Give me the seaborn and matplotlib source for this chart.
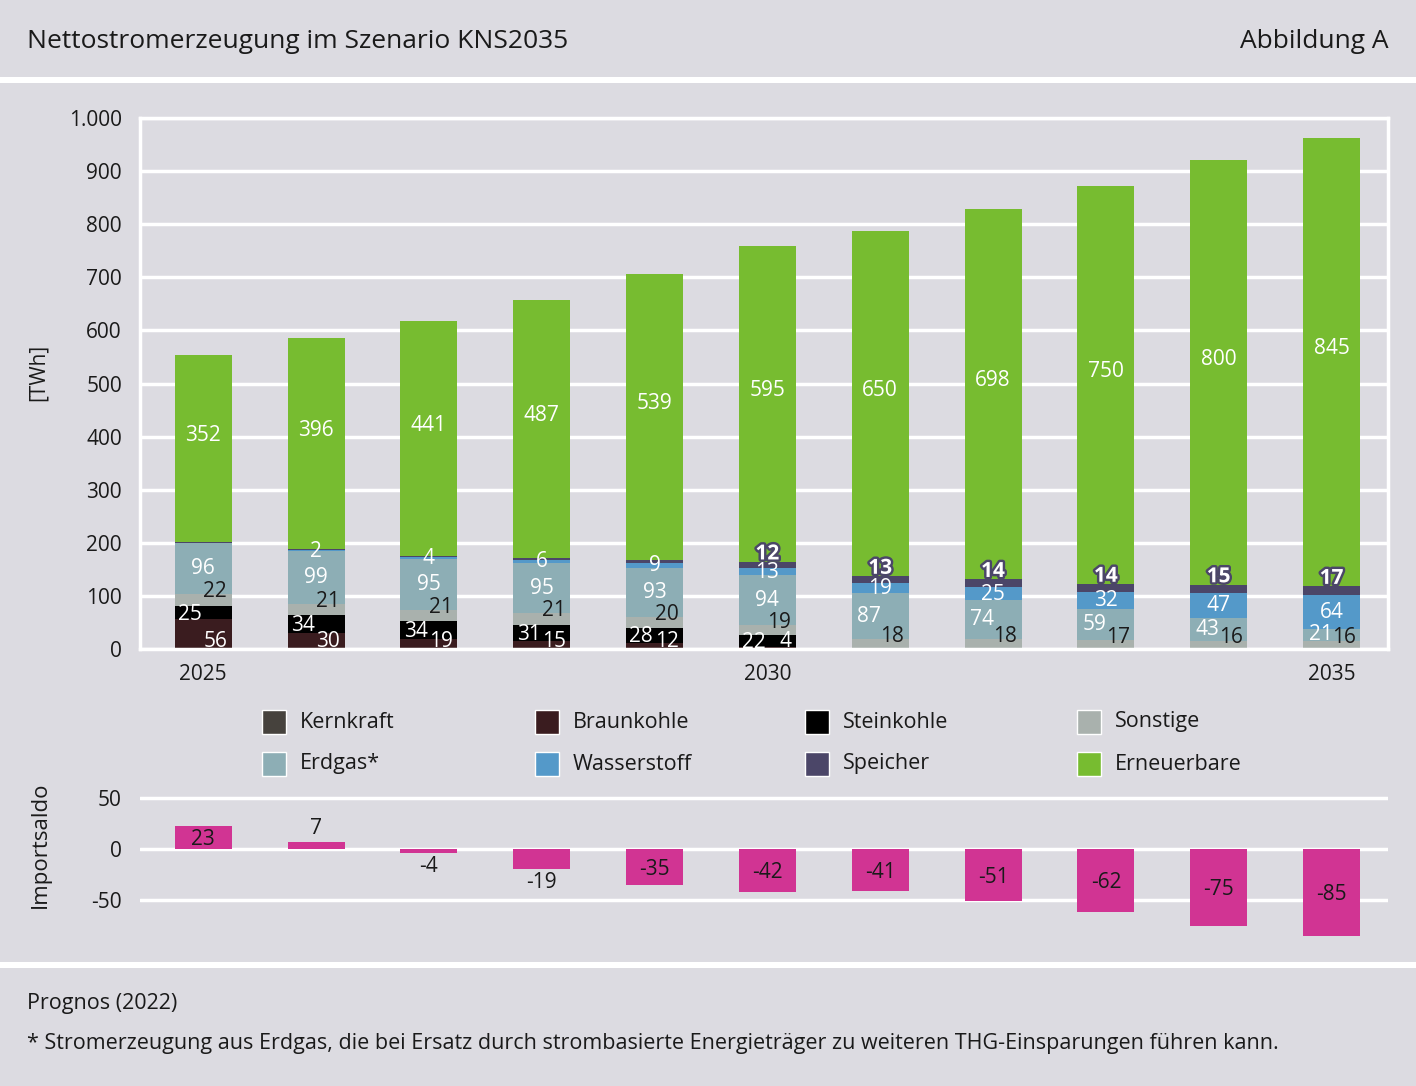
import matplotlib
matplotlib.use("Agg")
import matplotlib.pyplot as plt
import matplotlib.patheffects as pe
from matplotlib.patches import Rectangle
import numpy as np
import pandas as pd
import seaborn as sns

# Daten (TWh)
years = ["2025", "2026", "2027", "2028", "2029", "2030",
         "2031", "2032", "2033", "2034", "2035"]
kernkraft = [0, 0, 0, 0, 0, 0, 0, 0, 0, 0, 0]
braunkohle = [56, 30, 19, 15, 12, 4, 0, 0, 0, 0, 0]
steinkohle = [25, 34, 34, 31, 28, 22, 0, 0, 0, 0, 0]
sonstige = [22, 21, 21, 21, 20, 19, 18, 18, 17, 16, 16]
erdgas = [96, 99, 95, 95, 93, 94, 87, 74, 59, 43, 21]
wasserstoff = [0, 2, 4, 6, 9, 13, 19, 25, 32, 47, 64]
speicher = [3, 3, 3, 3, 5, 12, 13, 14, 14, 15, 17]
erneuerbare = [352, 396, 441, 487, 539, 595, 650, 698, 750, 800, 845]
importsaldo = [23, 7, -4, -19, -35, -42, -41, -51, -62, -75, -85]

tick_years = ["2025", "2030", "2035"]
legend_row1 = ["Kernkraft", "Braunkohle", "Steinkohle", "Sonstige"]
legend_row2 = ["Erdgas*", "Wasserstoff", "Speicher", "Erneuerbare"]

BG = "#dcdbe1"
colors = {
    "Kernkraft": "#46423d",
    "Braunkohle": "#3a1c1f",
    "Steinkohle": "#000000",
    "Sonstige": "#a9b1ad",
    "Erdgas*": "#8daeb5",
    "Wasserstoff": "#5499c9",
    "Speicher": "#4b4668",
    "Erneuerbare": "#77bc30",
}
IMPORT_COLOR = "#d13493"
DARK = "#1a1a1a"

df = pd.DataFrame({
    "Jahr": years,
    "Kernkraft": kernkraft,
    "Braunkohle": braunkohle,
    "Steinkohle": steinkohle,
    "Sonstige": sonstige,
    "Erdgas*": erdgas,
    "Wasserstoff": wasserstoff,
    "Speicher": speicher,
    "Erneuerbare": erneuerbare,
})
names = ["Kernkraft", "Braunkohle", "Steinkohle", "Sonstige",
         "Erdgas*", "Wasserstoff", "Speicher", "Erneuerbare"]
cum = df[names].cumsum(axis=1)

sns.set_style("white")
plt.rcParams["font.family"] = ["Open Sans", "DejaVu Sans"]
plt.rcParams["axes.unicode_minus"] = False

W, H = 1416, 1086
fig = plt.figure(figsize=(W / 100, H / 100), dpi=100, facecolor=BG)


def fx(px):
    return px / W


def fy(py):
    return 1 - py / H


# --- Hauptdiagramm ---
ax = fig.add_axes([fx(140), fy(649), fx(1248), 531 / H])
ax.set_facecolor(BG)
bar_w = 0.505
# gestapelt: kumulierte Summen von oben nach unten uebereinander zeichnen
for name in reversed(names):
    sns.barplot(x=df["Jahr"], y=cum[name], color=colors[name], width=bar_w,
                saturation=1, errorbar=None, linewidth=0, ax=ax)

ax.set_xlim(-0.56, 10.5)
ax.set_ylim(0, 1000)
ax.set_yticks(range(0, 1001, 100))
ax.set_yticklabels([f"{v:,}".replace(",", ".") for v in range(0, 1001, 100)])
ax.set_xticks([years.index(y) for y in tick_years])
ax.set_xticklabels(tick_years)
ax.tick_params(axis="y", length=0, pad=13, labelsize=15, labelcolor=DARK)
ax.tick_params(axis="x", length=0, pad=11, labelsize=15, labelcolor=DARK)
ax.set_xlabel("")
ax.set_ylabel("")
ax.set_axisbelow(True)
ax.yaxis.grid(True, color="white", lw=2.5)
for s in ax.spines.values():
    s.set_color("white")
    s.set_linewidth(2.5)

fs = 15
half = bar_w / 2
stroke = [pe.withStroke(linewidth=3.5, foreground=colors["Speicher"])]
for i in range(len(years)):
    b = braunkohle[i]
    st = steinkohle[i]
    so = sonstige[i]
    eg = erdgas[i]
    h2 = wasserstoff[i]
    sp = speicher[i]
    ee = erneuerbare[i]
    base_so = b + st
    base_eg = base_so + so
    base_h2 = base_eg + eg
    base_sp = base_h2 + h2
    base_ee = base_sp + sp
    if b > 0:
        ax.text(i + half - 0.04, 4, str(b), color="white", ha="right", va="baseline", fontsize=fs)
    if st > 0:
        ax.text(i - half + 0.03, b + st / 2 - 3, str(st), color="white", ha="left", va="center", fontsize=fs)
    ax.text(i + half - 0.04, base_so + so + 5, str(so), color=DARK, ha="right", va="center", fontsize=fs)
    if i <= 5:
        ax.text(i, base_eg + eg / 2, str(eg), color="white", ha="center", va="center", fontsize=fs)
    else:
        ax.text(i - half + 0.05, base_eg + eg / 2, str(eg), color="white", ha="left", va="center", fontsize=fs)
    if h2 > 0:
        ax.text(i, base_h2 + h2 / 2 - 1, str(h2), color="white", ha="center", va="center", fontsize=fs)
    if sp >= 10:
        ax.text(i, base_ee + 15, str(sp), color="white", ha="center", va="center",
                fontsize=fs, fontweight="bold", path_effects=stroke)
    ax.text(i, base_ee + ee / 2 + 25, str(ee), color="white", ha="center", va="center", fontsize=fs)

# --- Importsaldo ---
ax2 = fig.add_axes([fx(140), fy(941), fx(1248), 151 / H])
ax2.set_facecolor(BG)
sns.barplot(x=years, y=importsaldo, color=IMPORT_COLOR, width=bar_w,
            saturation=1, errorbar=None, linewidth=0, ax=ax2)
ax2.set_xlim(-0.56, 10.5)
ax2.set_ylim(-90, 58)
ax2.set_yticks([-50, 0, 50])
ax2.set_xticks([])
ax2.tick_params(axis="y", length=0, pad=13, labelsize=15, labelcolor=DARK)
ax2.set_xlabel("")
ax2.set_ylabel("")
ax2.set_axisbelow(True)
ax2.yaxis.grid(True, color="white", lw=2.5)
for s in ax2.spines.values():
    s.set_visible(False)
for i, v in enumerate(importsaldo):
    if abs(v) >= 20:
        ax2.text(i, v / 2 - 2, str(v), color=DARK, ha="center", va="center", fontsize=fs)
    elif v >= 0:
        ax2.text(i, v + 3, str(v), color=DARK, ha="center", va="bottom", fontsize=fs)
    else:
        ax2.text(i, v - 3, str(v), color=DARK, ha="center", va="top", fontsize=fs)

# --- Achsentitel ---
fig.text(fx(38), fy(372), "[TWh]", rotation=90, ha="center", va="center", fontsize=15, color=DARK)
fig.text(fx(40), fy(845), "Importsaldo", rotation=90, ha="center", va="center", fontsize=16, color=DARK)

# --- Legende ---
col_x = [262, 535, 805, 1077]
for row_y, row in [(722, legend_row1), (764, legend_row2)]:
    for cx, name in zip(col_x, row):
        fig.add_artist(Rectangle((fx(cx), fy(row_y + 12)), fx(24), 24 / H,
                                 facecolor=colors[name], edgecolor="white", lw=1,
                                 transform=fig.transFigure))
        fig.text(fx(cx + 38), fy(row_y), name, ha="left", va="center", fontsize=15.5, color=DARK)

# --- Kopf und Fuss ---
fig.text(fx(27), fy(41), "Nettostromerzeugung im Szenario KNS2035",
         ha="left", va="center", fontsize=19, color=DARK)
fig.text(fx(1388), fy(41), "Abbildung A", ha="right", va="center", fontsize=19, color=DARK)
for y0 in (77, 962):
    fig.add_artist(Rectangle((0, fy(y0 + 6)), 1, 6 / H, facecolor="white",
                             edgecolor="none", transform=fig.transFigure))
fig.text(fx(27), fy(1004), "Prognos (2022)", ha="left", va="center", fontsize=15.5, color=DARK)
fig.text(fx(27), fy(1043),
         "* Stromerzeugung aus Erdgas, die bei Ersatz durch strombasierte Energieträger "
         "zu weiteren THG-Einsparungen führen kann.",
         ha="left", va="center", fontsize=15.5, color=DARK)

fig.savefig("out.png", dpi=100, facecolor=BG)
